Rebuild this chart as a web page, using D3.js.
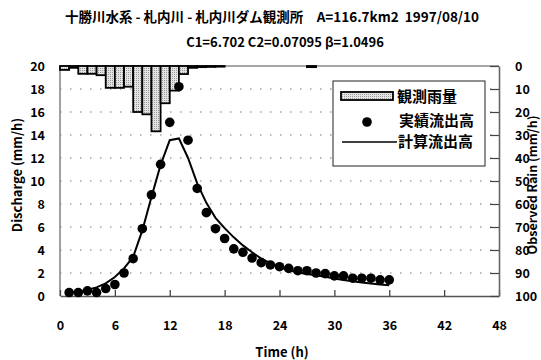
<!DOCTYPE html>
<html>
<head>
<meta charset="utf-8">
<script src="https://cdn.jsdelivr.net/npm/d3@7/dist/d3.min.js"></script>
<style>
  html, body { margin: 0; padding: 0; background: #fff; }
  svg { display: block; }
  text { font-family: "Noto Sans CJK JP", "Liberation Sans", sans-serif; font-weight: 700; fill: #000; white-space: pre; }
</style>
</head>
<body>
<svg id="chart" width="541" height="360"></svg>
<script>
// Hourly observed rainfall (mm/h), one value per hour starting at t = 0
const rainHours = [0,1,2,3,4,5,6,7,8,9,10,11,12,13,14,15,16,17,27];
const rainValues = [1.7,0.8,3.4,3.4,4.0,9.5,9.5,9.0,20.0,21.0,28.4,16.2,10.7,3.5,0.8,0.5,0.4,0.3,0.5];

// Observed discharge (mm/h) at hours 1..36
const obsHours = d3.range(1, 37);
const observed = [0.3,0.3,0.45,0.3,0.65,1.0,2.0,3.25,5.85,8.8,11.45,15.1,18.2,13.55,9.35,7.25,5.85,5.0,4.1,3.8,
                  3.3,2.9,2.7,2.55,2.4,2.2,2.2,2.0,1.95,1.75,1.75,1.55,1.55,1.55,1.4,1.4];

// Calculated discharge (mm/h) at hours 1..36
const calcHours = d3.range(1, 37);
const calculated = [0.3,0.35,0.55,0.75,1.1,1.65,2.4,3.4,5.7,8.6,11.4,13.55,13.7,12.0,9.8,8.1,6.8,5.9,5.1,4.4,
                    3.8,3.25,2.85,2.5,2.25,2.05,1.92,1.8,1.67,1.52,1.4,1.28,1.17,1.08,1.0,0.93];

const xTicks = [0,6,12,18,24,30,36,42,48];
const yTicks = [0,2,4,6,8,10,12,14,16,18,20];
const rainTicks = [0,10,20,30,40,50,60,70,80,90,100];

const titleLine1 = "十勝川水系 - 札内川 - 札内川ダム観測所\u3000A=116.7km2  1997/08/10";
const titleLine2 = "C1=6.702 C2=0.07095 \u03B2=1.0496";
const legendLabels = ["観測雨量", "実績流出高", "計算流出高"];

const svg = d3.select("#chart");
const L = 60, R = 499, T = 66, B = 296;

const x = d3.scaleLinear().domain([0, 48]).range([L, R]);
const y = d3.scaleLinear().domain([0, 20]).range([B, T]);
const yR = d3.scaleLinear().domain([0, 100]).range([T, B]);

// stipple fill for the rain bars
const defs = svg.append("defs");
const pat = defs.append("pattern").attr("id", "stipple")
  .attr("patternUnits", "userSpaceOnUse").attr("width", 2).attr("height", 2);
pat.append("rect").attr("width", 2).attr("height", 2).attr("fill", "#e4e4e4");
pat.append("rect").attr("width", 1).attr("height", 1).attr("fill", "#9a9a9a");

// titles
svg.append("text").attr("x", 272).attr("y", 22).attr("text-anchor", "middle")
  .style("font-size", "13.5px").text(titleLine1);
svg.append("text").attr("x", 285).attr("y", 47).attr("text-anchor", "middle")
  .style("font-size", "13px").text(titleLine2);

// dotted grid
svg.append("g").selectAll("line").data(yTicks.slice(1, -1)).join("line")
  .attr("x1", L).attr("x2", R).attr("y1", d => y(d)).attr("y2", d => y(d))
  .attr("stroke", "#777").attr("stroke-width", 1).attr("stroke-dasharray", "1.5,8.5");

// frame
svg.append("line").attr("x1", L).attr("x2", R).attr("y1", T).attr("y2", T)
  .attr("stroke", "#8a8a8a").attr("stroke-width", 1.6);
svg.append("line").attr("x1", L).attr("x2", L).attr("y1", T).attr("y2", B)
  .attr("stroke", "#8a8a8a").attr("stroke-width", 1.6);

// bottom axis
const gx = svg.append("g").attr("transform", `translate(0,${B})`)
  .call(d3.axisBottom(x).tickValues(xTicks).tickSizeInner(-6).tickSizeOuter(0).tickFormat(d3.format("d")));
gx.select(".domain").attr("stroke", "#555").attr("stroke-width", 1.6);
gx.selectAll(".tick line").attr("stroke", "#444").attr("stroke-width", 1.3);
gx.selectAll(".tick text").attr("y", 30).attr("dy", "0.35em")
  .style("font-size", "12.5px").style("font-family", null);

// left axis
const gy = svg.append("g").attr("transform", `translate(${L},0)`)
  .call(d3.axisLeft(y).tickValues(yTicks).tickSize(0).tickPadding(15));
gy.select(".domain").remove();
gy.selectAll(".tick text").style("font-size", "12.5px").style("font-family", null);

// right rain axis
const gr = svg.append("g").attr("transform", `translate(${R},0)`)
  .call(d3.axisRight(yR).tickValues(rainTicks).tickSizeInner(-9).tickSizeOuter(0).tickPadding(16));
gr.select(".domain").attr("stroke", "#666").attr("stroke-width", 1.6);
gr.selectAll(".tick line").attr("stroke", "#444").attr("stroke-width", 1.2);
gr.selectAll(".tick text").style("font-size", "12.5px").style("font-family", null);

// axis titles
svg.append("text").attr("x", 282).attr("y", 357).attr("text-anchor", "middle")
  .style("font-size", "13px").text("Time (h)");
svg.append("text").attr("transform", "translate(22,175) rotate(-90)").attr("text-anchor", "middle")
  .style("font-size", "13px").text("Discharge (mm/h)");
svg.append("text").attr("transform", "translate(537,185) rotate(-90)").attr("text-anchor", "middle")
  .style("font-size", "12.5px").text("Observed Rain (mm/h)");

// rain bars hanging from the top
const rain = rainHours.map((h, i) => ({ h, v: rainValues[i] }));
svg.append("g").selectAll("rect").data(rain).join("rect")
  .attr("x", d => x(d.h)).attr("width", d => x(d.h + 1) - x(d.h))
  .attr("y", yR(0)).attr("height", d => yR(d.v) - yR(0))
  .attr("fill", "url(#stipple)").attr("stroke", "#000").attr("stroke-width", 1.8);

// calculated discharge line
const calc = calcHours.map((h, i) => ({ h, v: calculated[i] }));
svg.append("path").datum(calc)
  .attr("d", d3.line().x(d => x(d.h)).y(d => y(d.v)))
  .attr("fill", "none").attr("stroke", "#000").attr("stroke-width", 2);

// observed discharge points
const obs = obsHours.map((h, i) => ({ h, v: observed[i] }));
svg.append("g").selectAll("circle").data(obs).join("circle")
  .attr("cx", d => x(d.h)).attr("cy", d => y(d.v)).attr("r", 4.8).attr("fill", "#000");

// legend
const lg = svg.append("g");
lg.append("rect").attr("x", 333).attr("y", 81).attr("width", 152).attr("height", 85)
  .attr("fill", "#fff").attr("stroke", "#222").attr("stroke-width", 1);
lg.append("rect").attr("x", 341).attr("y", 92).attr("width", 52).attr("height", 8)
  .attr("fill", "url(#stipple)").attr("stroke", "#000").attr("stroke-width", 1.8);
lg.append("circle").attr("cx", 367).attr("cy", 122).attr("r", 4.8).attr("fill", "#000");
lg.append("line").attr("x1", 342).attr("x2", 397).attr("y1", 142).attr("y2", 142)
  .attr("stroke", "#000").attr("stroke-width", 1.5);
const legendY = [97, 121, 142];
const legendX = [397, 399, 398];
lg.selectAll("text.lab").data(legendLabels).join("text").attr("class", "lab")
  .attr("x", (d, i) => legendX[i]).attr("y", (d, i) => legendY[i]).attr("dy", "0.36em")
  .style("font-size", "15px").text(d => d);
</script>
</body>
</html>
